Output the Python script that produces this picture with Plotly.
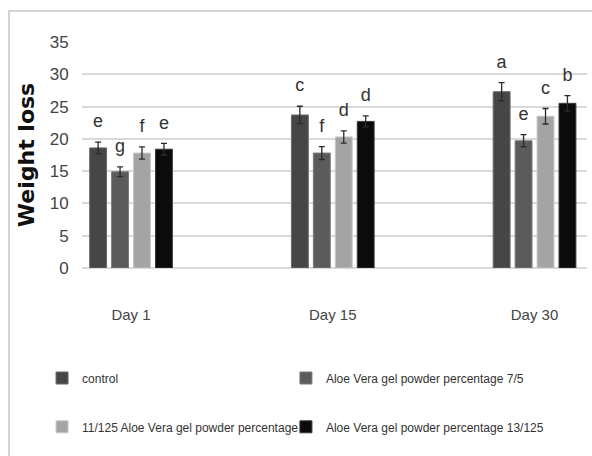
import plotly.graph_objects as go

days = ["Day 1", "Day 15", "Day 30"]
series_names = [
    "control",
    "Aloe Vera gel powder percentage 7/5",
    "11/125 Aloe Vera gel powder percentage",
    "Aloe Vera gel powder percentage 13/125",
]
control = [18.6, 23.7, 27.3]
aloe_7_5 = [14.9, 17.8, 19.7]
aloe_11_125 = [17.8, 20.3, 23.5]
aloe_13_125 = [18.4, 22.7, 25.5]

err_control = [0.9, 1.35, 1.4]
err_7_5 = [0.75, 1.0, 0.95]
err_11_125 = [0.95, 0.95, 1.2]
err_13_125 = [0.9, 0.85, 1.2]

letters_control = ["e", "c", "a"]
letters_7_5 = ["g", "f", "e"]
letters_11_125 = ["f", "d", "c"]
letters_13_125 = ["e", "d", "b"]

yticks = [0, 5, 10, 15, 20, 25, 30, 35]

values = [control, aloe_7_5, aloe_11_125, aloe_13_125]
errors = [err_control, err_7_5, err_11_125, err_13_125]
letters = [letters_control, letters_7_5, letters_11_125, letters_13_125]
colors = ["#464646", "#5b5b5b", "#a4a4a4", "#0b0b0b"]
edge = ["#6a6a6a", "#7a7a7a", "#c8c8c8", "#3a3a3a"]
legend_ids = ["legend", "legend2", "legend3", "legend4"]
legend_pos = [(0.071, 0.171), (0.483, 0.171), (0.071, 0.064), (0.483, 0.064)]

xs = list(range(len(days)))
font = "Liberation Sans, Arial, sans-serif"

fig = go.Figure()
for i in range(4):
    fig.add_trace(go.Bar(
        x=xs, y=values[i], name=series_names[i],
        marker=dict(color=colors[i], line=dict(color=edge[i], width=1)),
        error_y=dict(type="data", array=errors[i], color="#2a2a2a", thickness=1.3, width=3),
        offsetgroup=str(i), legend=legend_ids[i],
    ))
for i in range(4):
    fig.add_trace(go.Scatter(
        x=xs, y=[v + e + 3.0 for v, e in zip(values[i], errors[i])],
        mode="text", text=letters[i], textposition="middle center",
        textfont=dict(family=font, size=18, color="#333333"),
        offsetgroup=str(i), showlegend=False, hoverinfo="skip",
    ))

legend_font = dict(family=font, size=12, color="#333333")
legend_layouts = {}
for lid, (lx, ly) in zip(legend_ids, legend_pos):
    legend_layouts[lid] = dict(orientation="h", xref="container", yref="container",
                               x=lx, y=ly, xanchor="left", yanchor="middle", itemwidth=30,
                               font=legend_font, bgcolor="rgba(0,0,0,0)")

fig.update_layout(
    width=592, height=456,
    margin=dict(l=82, r=5, t=42, b=188),
    paper_bgcolor="white", plot_bgcolor="white",
    barmode="group", scattermode="group",
    bargap=0.565, bargroupgap=0.23, scattergap=0.565,
    font=dict(family=font, size=13, color="#333333"),
    xaxis=dict(
        range=[-0.243, 2.26], tickmode="array",
        tickvals=xs, ticktext=days,
        showgrid=False, zeroline=False, showline=False, automargin=False,
        ticks="outside", ticklen=33, tickcolor="rgba(0,0,0,0)",
        tickfont=dict(family=font, size=15, color="#444444"),
    ),
    yaxis=dict(
        range=[0, 35], tickvals=yticks, showgrid=True, gridcolor="#d9d9d9", gridwidth=1.5,
        zeroline=True, zerolinecolor="#d9d9d9", zerolinewidth=1.5, automargin=False,
        ticks="outside", ticklen=9, tickcolor="rgba(0,0,0,0)",
        tickfont=dict(family=font, size=17, color="#444444"),
        title=dict(text="<b>Weight loss</b>", standoff=8,
                   font=dict(family="DejaVu Sans, sans-serif", size=22, color="#111111")),
    ),
    shapes=[dict(type="rect", xref="paper", yref="paper", x0=-0.1446, x1=1.05, y0=-0.95, y1=1.137,
                 line=dict(color="#d4d4d4", width=2), fillcolor="rgba(0,0,0,0)", layer="below")],
    showlegend=True,
    **legend_layouts,
)
fig.write_html("out.html", config={"displayModeBar": False},
               post_script="document.body.style.margin='0';")
